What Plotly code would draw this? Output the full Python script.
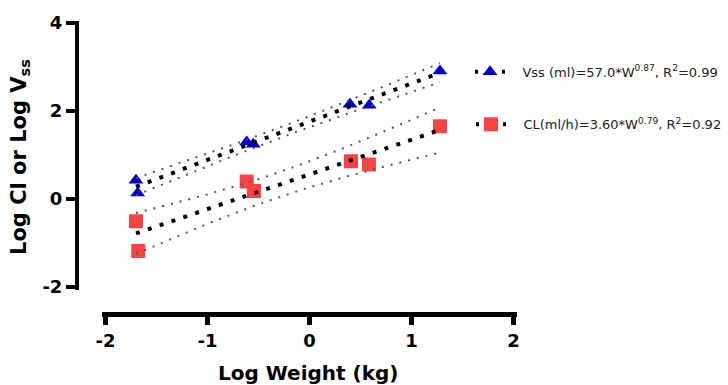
import numpy as np
import plotly.graph_objects as go

# Log body weight (kg) for each animal group
vss_logw = [-1.701, -1.684, -0.616, -0.552, 0.396, 0.585, 1.278]
vss_logy = [0.42, 0.13, 1.29, 1.24, 2.15, 2.13, 2.91]

cl_logw = [-1.701, -1.679, -0.616, -0.545, 0.406, 0.582, 1.278]
cl_logy = [-0.513, -1.189, 0.392, 0.178, 0.854, 0.779, 1.651]

# Allometric fits: Y = a * W^b
vss_a, vss_b, vss_r2 = 57.0, 0.87, 0.99
cl_a, cl_b, cl_r2 = 3.60, 0.79, 0.92

x_ticks = [-2, -1, 0, 1, 2]
y_ticks = [-2, 0, 2, 4]

T95_DF5 = 2.5706  # two-sided 95% t value, 5 degrees of freedom

BLUE = "#0000C8"
RED = "#F84444"
FONT = "DejaVu Sans"


def fit_and_band(xs, ys, a, b, npts=80):
    xs = np.asarray(xs, float)
    ys = np.asarray(ys, float)
    c0 = np.log10(a)
    resid = ys - (c0 + b * xs)
    n = len(xs)
    s = np.sqrt(np.sum(resid ** 2) / (n - 2))
    xm = xs.mean()
    sxx = np.sum((xs - xm) ** 2)
    grid = np.linspace(xs.min(), xs.max(), npts)
    yfit = c0 + b * grid
    half = T95_DF5 * s * np.sqrt(1.0 / n + (grid - xm) ** 2 / sxx)
    return grid, yfit, yfit - half, yfit + half


fig = go.Figure()

# data points
fig.add_trace(go.Scatter(x=vss_logw, y=vss_logy, mode="markers", showlegend=False,
                         marker=dict(symbol="triangle-up", size=13, color=BLUE)))
fig.add_trace(go.Scatter(x=cl_logw, y=cl_logy, mode="markers", showlegend=False,
                         marker=dict(symbol="square", size=14, color=RED)))

# regression lines with 95% confidence bands
for xs, ys, a, b in [(vss_logw, vss_logy, vss_a, vss_b), (cl_logw, cl_logy, cl_a, cl_b)]:
    g, yf, lo, hi = fit_and_band(xs, ys, a, b)
    for band in (lo, hi):
        fig.add_trace(go.Scatter(x=g, y=band, mode="lines", showlegend=False,
                                 line=dict(color="#555555", width=2, dash="2px,7px")))
    fig.add_trace(go.Scatter(x=g, y=yf, mode="lines", showlegend=False,
                             line=dict(color="black", width=4, dash="4px,8.5px")))

# legend entries: one dot either side of the marker
legend_dash = "3px,24px"
PAD = "\u00a0\u00a0\u00a0"
fig.add_trace(go.Scatter(
    x=[None], y=[None], mode="lines+markers", legend="legend",
    name=PAD + f"Vss (ml)={vss_a:.1f}*W<sup>{vss_b:.2f}</sup>, R<sup>2</sup>={vss_r2:.2f}",
    line=dict(color="black", width=4, dash=legend_dash),
    marker=dict(symbol="triangle-up", size=13, color=BLUE)))
fig.add_trace(go.Scatter(
    x=[None], y=[None], mode="lines+markers", legend="legend2",
    name=PAD + f"CL(ml/h)={cl_a:.2f}*W<sup>{cl_b:.2f}</sup>, R<sup>2</sup>={cl_r2:.2f}",
    line=dict(color="black", width=4, dash=legend_dash),
    marker=dict(symbol="square", size=14, color=RED)))

W, H = 728, 385
ML, MR, MT, MB = 62, 208, 15, 55
PW, PH = W - ML - MR, H - MT - MB


def px_x(p):
    return (p - ML) / PW


def px_y(p):
    return (H - MB - p) / PH


legend_common = dict(bgcolor="rgba(0,0,0,0)", borderwidth=0, itemwidth=30,
                     font=dict(family=FONT, size=13, color="#222222"),
                     xanchor="left", yanchor="middle")

fig.update_layout(
    width=W, height=H,
    margin=dict(l=ML, r=MR, t=MT, b=MB, autoexpand=False),
    paper_bgcolor="white", plot_bgcolor="white",
    font=dict(family=FONT, color="black"),
    xaxis=dict(range=[-2.037, 2.03], domain=[px_x(101.7), px_x(516.7)],
               anchor="free", position=px_y(314),
               tickvals=x_ticks, ticktext=[str(v) for v in x_ticks],
               showline=True, linecolor="black", linewidth=5,
               ticks="outside", ticklen=8, tickwidth=5, tickcolor="black",
               tickfont=dict(family=FONT, size=18, color="black", weight="bold"),
               showgrid=False, zeroline=False),
    yaxis=dict(range=[-2.075, 4.046], domain=[px_y(290), px_y(21)],
               anchor="free", position=px_x(77),
               tickvals=y_ticks, ticktext=[str(v) for v in y_ticks],
               showline=True, linecolor="black", linewidth=4,
               ticks="outside", ticklen=9, tickwidth=4, tickcolor="black",
               tickfont=dict(family=FONT, size=18, color="black", weight="bold"),
               showgrid=False, zeroline=False),
    legend=dict(x=px_x(470), y=px_y(71.7), **legend_common),
    legend2=dict(x=px_x(471), y=px_y(124.3), **legend_common),
    annotations=[
        dict(text="Log Weight (kg)", xref="paper", yref="paper",
             x=px_x(308.5), y=px_y(373), xanchor="center", yanchor="middle",
             showarrow=False, font=dict(family=FONT, size=20, color="black", weight="bold")),
        dict(text="Log Cl or Log V<sub>ss</sub>", xref="paper", yref="paper",
             x=px_x(20), y=px_y(157), xanchor="center", yanchor="middle", textangle=-90,
             showarrow=False, font=dict(family=FONT, size=21, color="black", weight="bold")),
    ],
)

fig.write_html("out.html")
